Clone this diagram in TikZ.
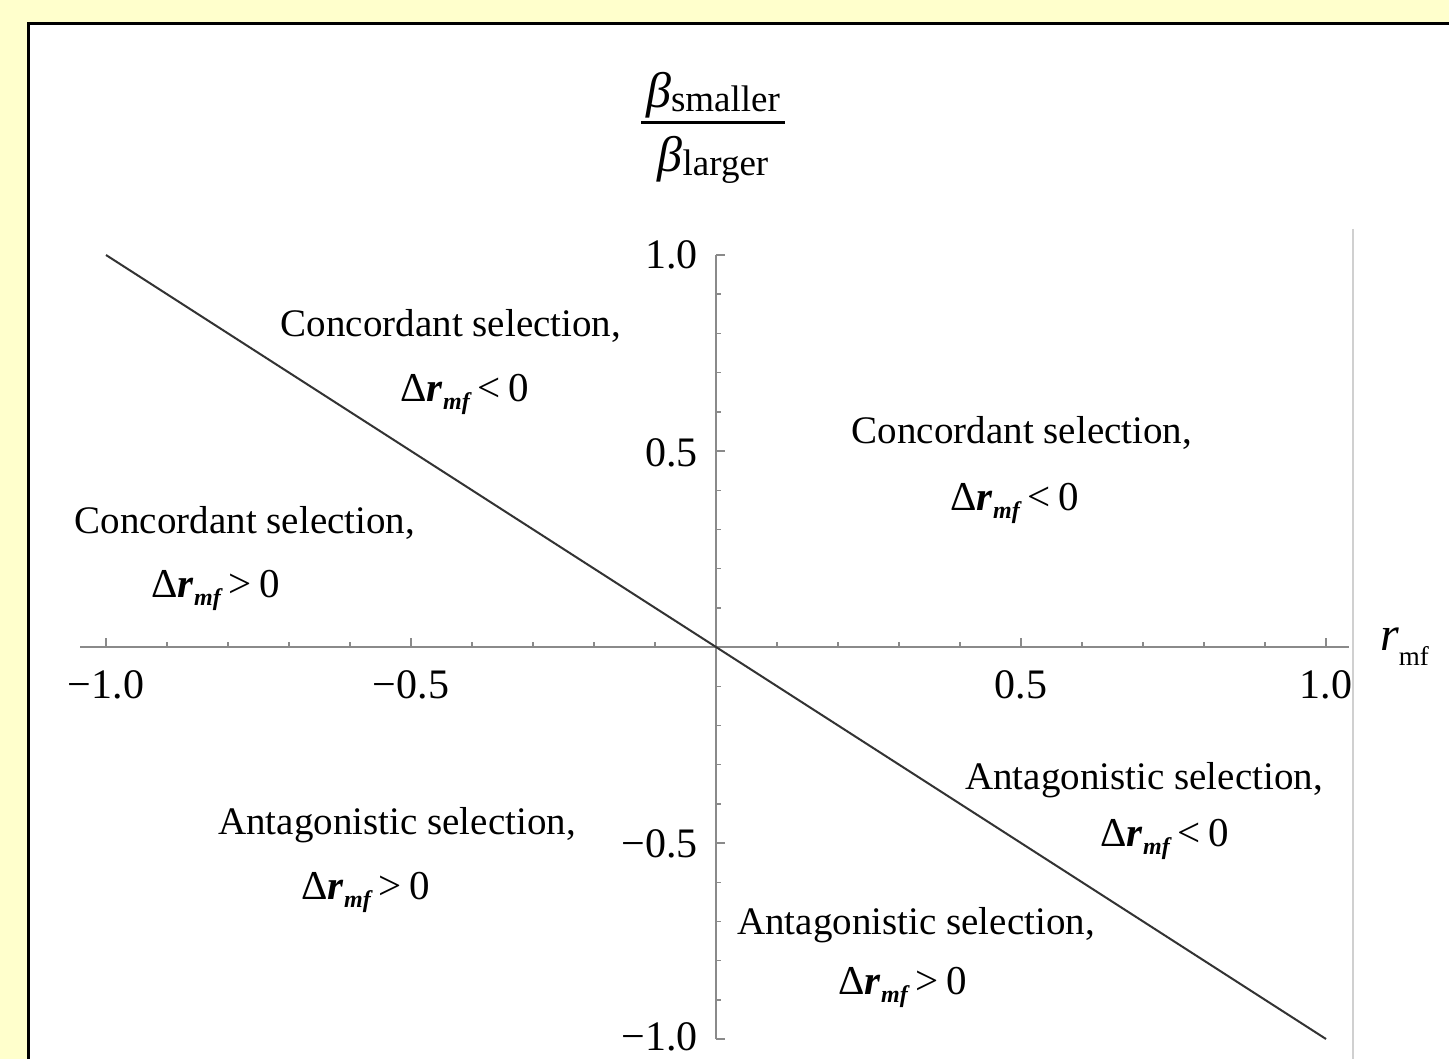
\documentclass[tikz,border=0pt]{standalone}
\usepackage{fontspec}
\setmainfont{Liberation Serif}
\definecolor{bgyellow}{HTML}{FFFFCC}
\definecolor{axisgray}{HTML}{8A8A8A}
\definecolor{framegray}{HTML}{D0D0D0}
\definecolor{curvegray}{HTML}{333333}
\newcommand{\deltar}[1]{{\fontsize{41}{41}\selectfont Δ\textbf{\textit{r}}\raisebox{-8pt}{\fontsize{24}{24}\selectfont\bfseries\itshape mf}\kern8pt#1\kern8pt0}}
\begin{document}
\begin{tikzpicture}[x=1pt,y=-1pt,
  region/.style={font=\fontsize{39}{39}\selectfont, anchor=base, inner sep=0pt},
  formula/.style={anchor=base, inner sep=0pt},
  ticklab/.style={font=\fontsize{42}{42}\selectfont, inner sep=0pt},
  fraclab/.style={anchor=base, inner sep=0pt},
  axisline/.style={draw=axisgray, line width=1.8pt},
  tickmark/.style={draw=axisgray, line width=1.4pt}]
\useasboundingbox (0,0) rectangle (1449,1059);
\fill[bgyellow] (0,0) rectangle (1449,1059);
\fill[white] (28.5,23.5) rectangle (1449,1059);
\draw[line width=3.5pt] (28.5,1070) -- (28.5,23.5) -- (1460,23.5);
% right frame
\coordinate (ftop) at (1353,229);
\coordinate (fbot) at (1353,1065);
\draw[framegray, line width=2pt] (ftop) -- (fbot);
% axes
\coordinate (xl) at (80,647);
\coordinate (xr) at (1349,647);
\coordinate (yt) at (716,255);
\coordinate (yb) at (716,1039);
\path[axisline] (xl) -- (xr);
\path[axisline] (yt) -- (yb);
\foreach \i in {-9,-8,-7,-6,-4,-3,-2,-1,1,2,3,4,6,7,8,9}{
  \path[tickmark] ({716+61*\i},647) -- ++(0,-5);
  \path[tickmark] (716,{647-39.2*\i}) -- ++(5,0);
}
\foreach \i in {-10,-5,5,10}{
  \path[tickmark] ({716+61*\i},647) -- ++(0,-9);
  \path[tickmark] (716,{647-39.2*\i}) -- ++(9,0);
}
% tick labels
\node[ticklab, anchor=base] (xm1) at (106,698) {−1.0};
\node[ticklab, anchor=base] (xm05) at (411,698) {−0.5};
\node[ticklab, anchor=base] (xp05) at (1021,698) {0.5};
\node[ticklab, anchor=base] (xp1) at (1326,698) {1.0};
\node[ticklab, anchor=base east] (yp1) at (698,269) {1.0};
\node[ticklab, anchor=base east] (yp05) at (698,466) {0.5};
\node[ticklab, anchor=base east] (ym05) at (698,857) {−0.5};
\node[ticklab, anchor=base east] (ym1) at (698,1050) {−1.0};
% y-axis label (fraction)
\node[fraclab] (ynum) at (713,108) {{\fontsize{50}{50}\selectfont\itshape β}\raisebox{-4pt}{\fontsize{37}{37}\selectfont smaller}};
\node[fraclab] (yden) at (713,172) {{\fontsize{50}{50}\selectfont\itshape β}\raisebox{-4pt}{\fontsize{37}{37}\selectfont larger}};
\coordinate (barl) at (641,123);
\coordinate (barr) at (785,123);
\draw[line width=3pt] (barl) -- (barr);
% x-axis label
\node[inner sep=0pt, anchor=base west] (xlab) at (1380,650) {{\fontsize{48}{48}\selectfont\itshape r}\raisebox{-15pt}{\fontsize{27}{27}\selectfont mf}};
% boundary line
\coordinate (lstart) at (106,255);
\coordinate (lend) at (1326,1039);
\draw[curvegray, line width=2pt] (lstart) -- (lend);
% region labels
\node[region] (c1) at (451,337) {Concordant selection,};
\node[formula] (f1) at (465,401) {\deltar{<}};
\node[region] (c2) at (1022,443) {Concordant selection,};
\node[formula] (f2) at (1015,510) {\deltar{<}};
\node[region] (c3) at (245,533) {Concordant selection,};
\node[formula] (f3) at (216,597) {\deltar{>}};
\node[region] (a1) at (1144,789) {Antagonistic selection,};
\node[formula] (f4) at (1165,846) {\deltar{<}};
\node[region] (a2) at (397,834) {Antagonistic selection,};
\node[formula] (f5) at (366,899) {\deltar{>}};
\node[region] (a3) at (916,934) {Antagonistic selection,};
\node[formula] (f6) at (903,994) {\deltar{>}};
\end{tikzpicture}
\end{document}
